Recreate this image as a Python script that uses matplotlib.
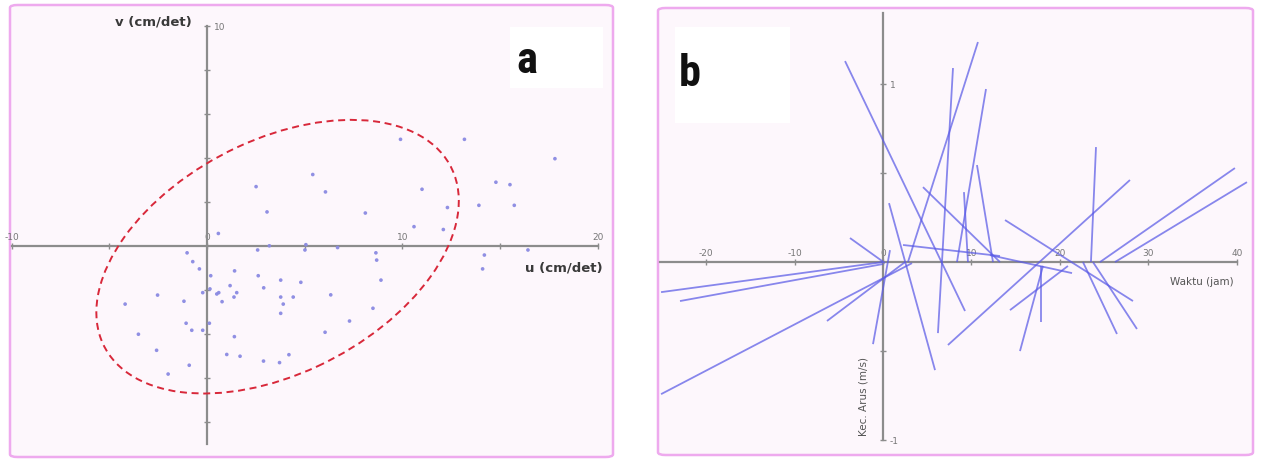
import matplotlib
matplotlib.use("Agg")
import matplotlib.pyplot as plt
from matplotlib.patches import Ellipse, FancyBboxPatch, Rectangle
from matplotlib.collections import LineCollection
from matplotlib.ticker import FixedLocator
from matplotlib import font_manager
import numpy as np

# ---------------- data: panel a (scatter of current components) ----------------
u_vals = [5.41, 2.51, 6.06, 3.07, 0.58, 2.59, 3.19, 5.01, 5.06, 6.68,
          -1.02, -0.73, -0.39, 0.19, 1.41, 2.62, 3.77, 4.80, 0.15, 1.18,
          2.90, -0.22, 0.50, 0.60, 1.52, 1.38, 0.77, -1.18, -2.53, -4.19,
          3.77, 4.41, 3.90, 6.33, 3.77, -1.07, -0.78, -0.22, -3.51, 1.40,
          6.04, -2.58, 1.01, 1.69, 2.89, 3.71, 4.19, -0.91, -1.99, 0.12,
          9.90, 13.17, 17.80, 11.00, 14.78, 15.50, 8.10, 12.30, 13.91, 15.72,
          10.59, 12.09, 8.64, 8.68, 14.19, 14.10, 8.90, 8.49, 7.29, 16.42]
v_vals = [3.25, 2.70, 2.46, 1.55, 0.57, -0.18, 0.01, -0.18, 0.06, -0.07,
          -0.31, -0.71, -1.04, -1.35, -1.13, -1.35, -1.55, -1.65, -1.95, -1.80,
          -1.90, -2.12, -2.18, -2.12, -2.12, -2.32, -2.53, -2.51, -2.23, -2.64,
          -2.32, -2.32, -2.64, -2.22, -3.06, -3.51, -3.83, -3.83, -4.01, -4.12,
          -3.92, -4.74, -4.93, -5.01, -5.23, -5.30, -4.94, -5.42, -5.82, -3.51,
          4.85, 4.85, 3.97, 2.58, 2.90, 2.79, 1.50, 1.75, 1.85, 1.85,
          0.88, 0.75, -0.31, -0.64, -0.41, -1.04, -1.55, -2.83, -3.41, -0.18]
ellipse_center = (3.61, -0.485)
ellipse_width = 19.56
ellipse_height = 10.77
ellipse_angle = 22.4
a_xticks_major = [-10, 0, 10, 20]
a_xticks_minor = [-5, 5, 15]
a_yticks_major = [10]
a_yticks_minor = [-8, -6, -4, -2, 2, 4, 6, 8]

# ---------------- data: panel b (stick plot, time in hours vs speed m/s) --------
stick_t0 = [-25.08, -22.94, -25.08, -6.33, -3.73, 0.79, -4.29, 10.73, 7.91, 11.64,
            10.62, 4.52, 0.68, 2.26, 24.07, 27.91, 39.77, 41.13, 13.79, 22.60,
            23.73, 18.08, 17.85, 14.35, 12.09, 9.15]
stick_s0 = [-0.169, -0.219, -0.742, -0.331, 0.135, 0.067, 1.129, 1.236, 1.090, 0.972,
            0.545, 0.421, 0.331, 0.096, 0.646, 0.461, 0.528, 0.449, 0.236, 0.0,
            0.0, -0.022, -0.022, -0.270, 0.039, 0.393]
stick_t1 = [0.0, 0.0, 3.28, 2.49, 0.23, -1.13, 9.27, 2.82, 6.21, 8.36,
            12.43, 13.22, 5.88, 13.22, 23.50, 7.34, 24.52, 26.21, 28.25, 26.44,
            28.70, 15.48, 17.85, 20.90, 21.36, 9.60]
stick_s1 = [0.0, -0.011, -0.006, 0.0, -0.006, -0.461, -0.275, 0.0, -0.399, 0.0,
            0.0, 0.0, -0.607, 0.034, 0.0, -0.466, 0.0, 0.0, -0.219, -0.404,
            -0.376, -0.5, -0.337, -0.022, -0.062, 0.0]
b_xticks = [-20, -10, 0, 10, 20, 30, 40]
b_yticks_major = [-1, 1]
b_yticks_minor = [-0.5, 0.5]

# ---------------- figure ----------------
W, H = 1261, 459
fig = plt.figure(figsize=(W / 100, H / 100), dpi=100)
fig.patch.set_facecolor("white")

def fx(px):
    return px / W

def fy(py):
    return (H - py) / H

# choose a narrow bold face for the panel letters if one is installed
names = {f.name for f in font_manager.fontManager.ttflist}
letter_family = "DejaVu Sans"
letter_stretch = "normal"
for cand in ["Liberation Sans Narrow", "Roboto Condensed", "Open Sans Condensed",
             "DejaVu Sans Condensed"]:
    if cand in names:
        letter_family = cand
        break
else:
    letter_stretch = "condensed"

panel_face = "#fdf7fc"
border_col = "#eeaaee"
for (x0, y0, x1, y1) in [(10, 5, 613, 457), (658, 8, 1253, 455)]:
    p = FancyBboxPatch((fx(x0), fy(y1)), fx(x1) - fx(x0), fy(y0) - fy(y1),
                       boxstyle="round,pad=0,rounding_size=0.006",
                       transform=fig.transFigure, facecolor=panel_face,
                       edgecolor=border_col, linewidth=1.8, zorder=-2)
    fig.patches.append(p)
# white label boxes
for (x0, y0, x1, y1) in [(510, 27, 603, 88), (675, 27, 790, 123)]:
    r = Rectangle((fx(x0), fy(y1)), fx(x1) - fx(x0), fy(y0) - fy(y1),
                  transform=fig.transFigure, facecolor="white", edgecolor="none",
                  zorder=-1)
    fig.patches.append(r)

axis_col = "#8c8c8c"
tick_lab_col = "#777777"

# ---------------- panel a ----------------
ax = fig.add_axes([fx(10), fy(455), fx(612) - fx(10), fy(8) - fy(455)])
ax.set_facecolor("none")
ax.set_xlim(-10.08, 20.72)
ax.set_ylim(-9.5, 10.82)
for s in ["bottom", "left"]:
    ax.spines[s].set_visible(False)
ax.spines["top"].set_position(("data", 0))
ax.spines["top"].set_bounds(-10, 20)
ax.spines["right"].set_position(("data", 0))
ax.spines["right"].set_bounds(-9, 10)
for s in ["top", "right"]:
    ax.spines[s].set_color(axis_col)
    ax.spines[s].set_linewidth(1.6)
ax.xaxis.set_ticks_position("top")
ax.yaxis.set_ticks_position("right")
ax.xaxis.set_major_locator(FixedLocator(a_xticks_major))
ax.xaxis.set_minor_locator(FixedLocator(a_xticks_minor))
ax.yaxis.set_major_locator(FixedLocator(a_yticks_major))
ax.yaxis.set_minor_locator(FixedLocator(a_yticks_minor))
ax.set_xticklabels([str(v) for v in a_xticks_major])
ax.set_yticklabels([str(v) for v in a_yticks_major])
ax.tick_params(which="both", direction="inout", length=4, width=1,
               color=axis_col, labelsize=6.5, labelcolor=tick_lab_col, pad=1)
ax.tick_params(axis="y", pad=3)

ax.scatter(u_vals, v_vals, s=7, color="#8a8ae2", edgecolors="none", alpha=0.95, zorder=3)
ell = Ellipse(ellipse_center, ellipse_width, ellipse_height, angle=ellipse_angle,
              fill=False, edgecolor="#d8283a", linewidth=1.4,
              linestyle=(0, (3.6, 2.4)), zorder=4)
ax.add_patch(ell)

fig.text(fx(153), fy(22), "v (cm/det)", ha="center", va="center",
         fontsize=9.5, fontweight="bold", color="#3a3a3a")
fig.text(fx(564), fy(268), "u (cm/det)", ha="center", va="center",
         fontsize=9.5, fontweight="bold", color="#3a3a3a")
fig.text(fx(527), fy(61), "a", ha="center", va="center", fontsize=32,
         fontweight="bold", family=letter_family, fontstretch=letter_stretch,
         color="#111111")

# ---------------- panel b ----------------
bx = fig.add_axes([fx(660), fy(452), fx(1252) - fx(660), fy(10) - fy(452)])
bx.set_facecolor("none")
bx.set_xlim(-25.2, 41.7)
bx.set_ylim(-1.067, 1.416)
for s in ["bottom", "left"]:
    bx.spines[s].set_visible(False)
bx.spines["top"].set_position(("data", 0))
bx.spines["top"].set_bounds(-25.2, 40)
bx.spines["right"].set_position(("data", 0))
bx.spines["right"].set_bounds(-1, 1.4)
for s in ["top", "right"]:
    bx.spines[s].set_color(axis_col)
    bx.spines[s].set_linewidth(1.6)
bx.xaxis.set_ticks_position("top")
bx.yaxis.set_ticks_position("right")
bx.xaxis.set_major_locator(FixedLocator(b_xticks))
bx.yaxis.set_major_locator(FixedLocator(b_yticks_major))
bx.yaxis.set_minor_locator(FixedLocator(b_yticks_minor))
bx.set_xticklabels([str(v) for v in b_xticks])
bx.set_yticklabels([str(v) for v in b_yticks_major])
bx.tick_params(which="both", direction="inout", length=4, width=1,
               color=axis_col, labelsize=6.5, labelcolor=tick_lab_col, pad=1)
bx.tick_params(axis="y", pad=3)

segs = [[(t0, s0), (t1, s1)] for t0, s0, t1, s1 in
        zip(stick_t0, stick_s0, stick_t1, stick_s1)]
lc = LineCollection(segs, colors="#5a5ae6", linewidths=1.3, alpha=0.72, zorder=3)
bx.add_collection(lc)

fig.text(fx(1202), fy(282), "Waktu (jam)", ha="center", va="center",
         fontsize=7.5, color="#555555")
fig.text(fx(864), fy(397), "Kec. Arus (m/s)", ha="center", va="center",
         fontsize=7.5, color="#555555", rotation=90)
fig.text(fx(690), fy(74), "b", ha="center", va="center", fontsize=32,
         fontweight="bold", family=letter_family, fontstretch=letter_stretch,
         color="#111111")

fig.savefig("out.png", dpi=100)
